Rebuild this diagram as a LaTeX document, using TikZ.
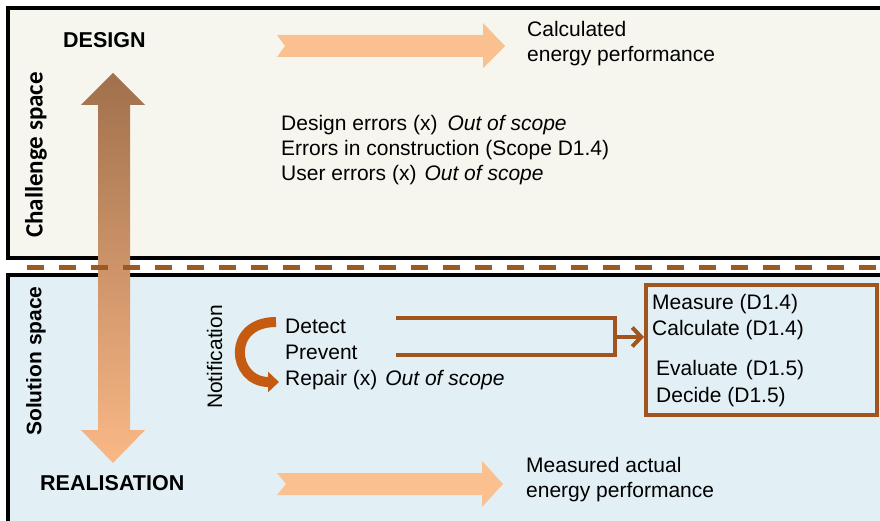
\documentclass[tikz,border=0pt]{standalone}
\usepackage{fontspec}
\setmainfont{Liberation Sans}
\newfontfamily\carlito{Carlito}
\usetikzlibrary{arrows.meta}
\definecolor{topfill}{HTML}{F6F6EF}
\definecolor{botfill}{HTML}{E2EFF5}
\definecolor{brownc}{HTML}{A0541E}
\definecolor{dashc}{HTML}{9C5A22}
\definecolor{lightor}{HTML}{FAC090}
\definecolor{curvec}{HTML}{C55A11}
\definecolor{arrtop}{HTML}{A0704C}
\definecolor{arrbot}{HTML}{FAB886}
\tikzset{
  txt/.style={anchor=base west, inner sep=0pt, font=\fontsize{21}{25}\selectfont},
  hdr/.style={anchor=base west, inner sep=0pt, font=\fontsize{21.5}{25}\selectfont\bfseries},
  spacelabel/.style={rotate=90, inner sep=0pt},
  panel/.style={draw=black, line width=3.5pt},
  fatarrow/.style={fill=lightor},
  conn/.style={draw=brownc, line width=4pt, line join=miter},
}
\begin{document}
\begin{tikzpicture}[x=1pt,y=-1pt]
\useasboundingbox (0,0) rectangle (880,521);
\clip (0,0) rectangle (880,521);
\fill[white] (0,0) rectangle (880,521);
% panels
\draw[panel, fill=topfill] (8,8) rectangle (890,258);
\draw[panel, fill=botfill] (8,275) rectangle (890,535);
% vertical double arrow
\shade[top color=arrtop, bottom color=arrbot]
  (113,73) -- (145,105) -- (130,105) -- (130,430) -- (145,430) -- (113,463)
  -- (81,430) -- (98,430) -- (98,105) -- (81,105) -- cycle;
% dashed separator
\draw[dashc, line width=5pt, dash pattern=on 17pt off 15pt] (27,267) -- (885,267);
% horizontal fat arrows
\fill[fatarrow] (277,35) -- (483,35) -- (483,23) -- (505,46) -- (483,68)
  -- (483,57) -- (277,57) -- (285,46) -- cycle;
\fill[fatarrow] (277,473) -- (482,473) -- (482,461) -- (503,484) -- (482,507)
  -- (482,495) -- (277,495) -- (286,484) -- cycle;
% labels
\node[hdr] (design) at (63,48) {DESIGN};
\node[hdr] (realisation) at (40,490) {REALISATION};
\node[spacelabel, font=\carlito\bfseries\fontsize{25}{29}\selectfont] (challenge) at (36,155) {Challenge space};
\node[spacelabel, font=\fontsize{21}{25}\selectfont\bfseries] (solution) at (36,361) {Solution space};
\node[spacelabel, anchor=base, font=\fontsize{21}{25}\selectfont] (notif) at (222,357) {Notification};
\node[txt] (calc1) at (527,36.7) {Calculated};
\node[txt] (calc2) at (527,61.7) {energy performance};
\node[txt] (err1) at (281,131) {Design errors (x)\hspace{10pt}\textit{Out of scope}};
\node[txt] (err2) at (281,156) {Errors in construction (Scope D1.4)};
\node[txt] (err3) at (281,181) {User errors (x)\hspace{8pt}\textit{Out of scope}};
\node[txt] (detect) at (285,333) {Detect};
\node[txt] (prevent) at (285,359) {Prevent};
\node[txt] (repair) at (285,385) {Repair (x)\hspace{8pt}\textit{Out of scope}};
\node[txt] (meas1) at (526,472) {Measured actual};
\node[txt] (meas2) at (526,497) {energy performance};
% action box
\node[draw=brownc, line width=3.5pt, minimum width=231pt, minimum height=130pt,
      anchor=north west, inner sep=0pt] (box) at (644,283) {};
\node[txt] (measure) at (652,309) {Measure (D1.4)};
\node[txt] (calculate) at (652,335) {Calculate (D1.4)};
\node[txt] (evaluate) at (656,375) {Evaluate\hspace{8pt}(D1.5)};
\node[txt] (decide) at (656,402) {Decide (D1.5)};
% curved notification arrow
\draw[curvec, line width=10pt, -{Triangle[length=11pt, width=20pt]}]
  (276,322) .. controls (226,322) and (232,382) .. (279,382);
% connectors
\coordinate (dl) at (396,318);
\coordinate (pl) at (396,355);
\coordinate (jn) at (615,337);
\draw[conn] (dl) -- (dl -| jn) -- (pl -| jn) -- (pl);
\draw[conn, -{Straight Barb[length=9pt, width=19pt]}] (jn) -- (jn -| box.west);
\end{tikzpicture}
\end{document}
